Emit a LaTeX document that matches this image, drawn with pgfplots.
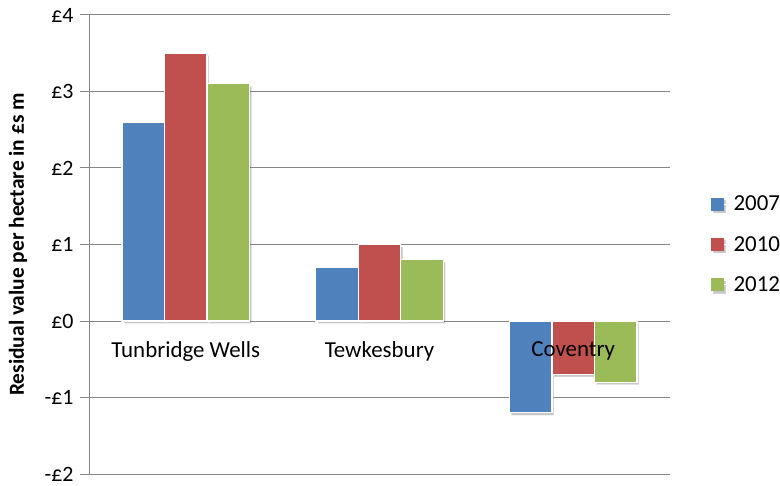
\documentclass[border=0pt]{standalone}
\usepackage{pgfplots}
\pgfplotsset{compat=1.18}
\usepackage{fontspec}
\setmainfont{Carlito}
\usetikzlibrary{shadows}
\definecolor{cblue}{HTML}{4F81BD}
\definecolor{cred}{HTML}{C0504D}
\definecolor{cgreen}{HTML}{9BBB59}
\definecolor{gridgray}{RGB}{134,134,134}
\pgfplotsset{
  layers/mylayers/.define layer set={
    axis background,axis grid,axis ticks,axis lines,pre main,main,axis tick labels,axis descriptions,axis foreground
  }{/pgfplots/layers/standard},
}
\begin{document}
\begin{tikzpicture}
\begin{axis}[
  set layers=mylayers,
  scale only axis,
  width=581bp, height=459bp,
  xmin=-0.5, xmax=2.5,
  ymin=-2, ymax=4,
  axis x line=middle,
  axis y line=left,
  axis line style={-, draw=gridgray, line width=1pt},
  ytick={-2,-1,0,1,2,3,4},
  yticklabels={-£2,-£1,£0,£1,£2,£3,£4},
  xtick={0,1,2},
  xticklabels={Tunbridge Wells,Tewkesbury,Coventry},
  major x tick style={draw=none},
  tick align=outside,
  major tick length=9bp,
  major y tick style={draw=gridgray, line width=1pt},
  ymajorgrids,
  grid style={draw=gridgray, line width=1pt},
  yticklabel style={font=\fontsize{22}{26}\selectfont, xshift=-3bp},
  xticklabel style={font=\fontsize{23}{27}\selectfont, yshift=-8bp, anchor=north},
  ylabel={\textbf{Residual value per hectare in £s m}},
  ylabel style={font=\fontsize{21.5}{25}\selectfont, at={(axis description cs:-0.122,0.5)}, anchor=center},
  ybar=0pt,
  bar width=42.5bp,
  every axis plot/.append style={draw=white, line width=1.2pt, drop shadow={shadow xshift=2bp, shadow yshift=-2.5bp, opacity=0.22, fill=black}},
  legend style={at={(1.065,0.5)}, anchor=west, draw=none, fill=none,
    font=\fontsize{23}{27}\selectfont, row sep=20bp},
  legend cell align=left,
  legend image code/.code={\fill[#1, draw=none] (0bp,-6.5bp) rectangle (13bp,6.5bp); \path (13bp,0bp) -- (20bp,0bp);},
  clip=false,
]
\addplot[fill=cblue] coordinates {(0,2.6) (1,0.7) (2,-1.2)};
\addplot[fill=cred] coordinates {(0,3.5) (1,1.0) (2,-0.7)};
\addplot[fill=cgreen] coordinates {(0,3.1) (1,0.8) (2,-0.8)};
\legend{2007,2010,2012}
\end{axis}
\pgfresetboundingbox
\path[use as bounding box] (-89bp,-12bp) rectangle (691bp,474bp);
\end{tikzpicture}
\end{document}
